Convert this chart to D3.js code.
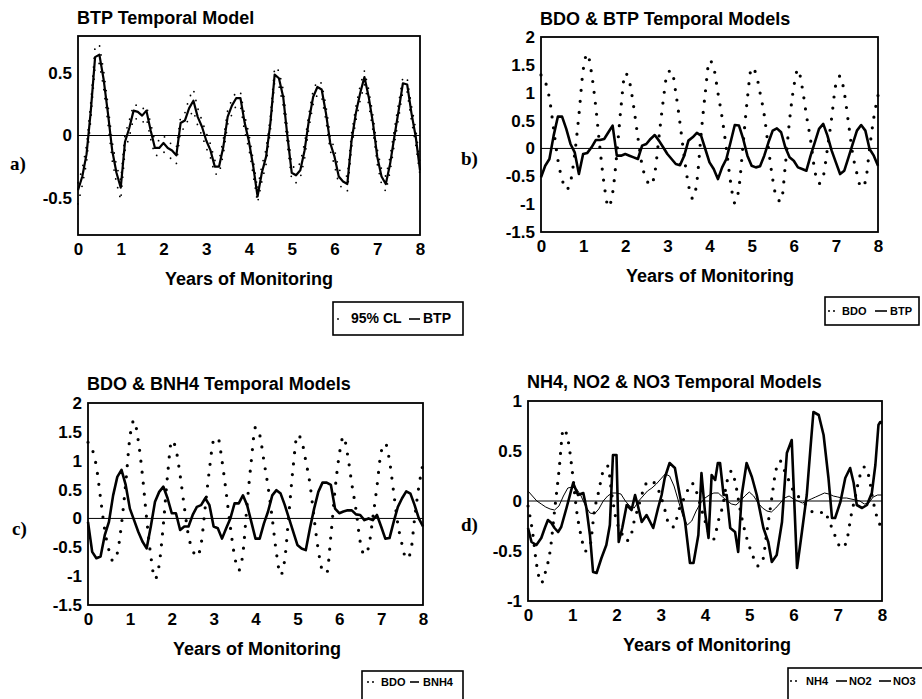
<!DOCTYPE html>
<html>
<head>
<meta charset="utf-8">
<script src="https://cdn.jsdelivr.net/npm/d3@7"></script>
<style>
  body { margin: 0; background: #fff; }
  svg { display: block; }
  text { font-family: "Liberation Sans", Arial, sans-serif; font-weight: bold; fill: #000; }
</style>
</head>
<body>
<svg id="chart" width="922" height="699"></svg>
<script>
var xTicks = [0, 1, 2, 3, 4, 5, 6, 7, 8];
var years = d3.range(81).map(function(i) { return i / 10; });

var btpA = [
  -0.44,-0.33,-0.15,0.2,0.63,0.65,0.45,0.18,-0.12,-0.3,
  -0.42,-0.05,0.06,0.2,0.19,0.16,0.2,0.04,-0.1,-0.1,
  -0.06,-0.1,-0.12,-0.16,0.1,0.12,0.22,0.28,0.15,0.07,
  -0.04,-0.12,-0.25,-0.25,-0.09,0.15,0.24,0.3,0.3,0.1,
  -0.05,-0.25,-0.49,-0.3,-0.17,0.1,0.49,0.46,0.31,-0.01,
  -0.3,-0.32,-0.28,-0.12,0.12,0.31,0.39,0.37,0.18,-0.06,
  -0.17,-0.33,-0.37,-0.39,-0.04,0.18,0.34,0.47,0.31,0.1,
  -0.17,-0.33,-0.39,-0.23,-0.01,0.2,0.42,0.41,0.18,-0.01,
  -0.28];
var clUpper = [
  -0.38,-0.27,-0.08,0.27,0.72,0.73,0.52,0.25,-0.05,-0.24,
  -0.36,0.01,0.12,0.25,0.24,0.21,0.24,0.1,-0.05,-0.04,
  0.0,-0.05,-0.07,-0.1,0.15,0.18,0.3,0.37,0.22,0.12,
  0.02,-0.07,-0.2,-0.2,-0.03,0.2,0.29,0.35,0.35,0.16,
  0.01,-0.2,-0.43,-0.24,-0.11,0.15,0.55,0.52,0.37,0.05,
  -0.24,-0.27,-0.22,-0.06,0.17,0.36,0.44,0.42,0.24,0.0,
  -0.11,-0.27,-0.31,-0.33,0.02,0.23,0.4,0.52,0.37,0.16,
  -0.11,-0.27,-0.33,-0.17,0.05,0.26,0.47,0.46,0.24,0.05,
  -0.22];
var clLower = [
  -0.55,-0.4,-0.22,0.13,0.56,0.58,0.38,0.1,-0.2,-0.38,
  -0.52,-0.12,-0.01,0.14,0.13,0.1,0.14,-0.03,-0.16,-0.16,
  -0.13,-0.17,-0.19,-0.23,0.04,0.06,0.15,0.2,0.08,0.0,
  -0.1,-0.18,-0.31,-0.31,-0.15,0.09,0.17,0.24,0.24,0.03,
  -0.11,-0.32,-0.54,-0.37,-0.23,0.04,0.43,0.4,0.24,-0.08,
  -0.36,-0.38,-0.34,-0.19,0.06,0.25,0.33,0.31,0.12,-0.12,
  -0.24,-0.39,-0.43,-0.45,-0.1,0.12,0.28,0.41,0.25,0.04,
  -0.23,-0.39,-0.45,-0.29,-0.07,0.14,0.36,0.35,0.12,-0.07,
  -0.32];
var btpB = [
  -0.52,-0.31,-0.19,0.23,0.57,0.57,0.35,0.08,-0.07,-0.46,
  -0.1,-0.08,0.02,0.15,0.15,0.17,0.29,0.41,-0.13,-0.13,
  -0.1,-0.13,-0.16,-0.19,0.05,0.08,0.17,0.24,0.14,0.02,
  -0.1,-0.19,-0.28,-0.3,-0.13,0.14,0.2,0.28,0.23,-0.01,
  -0.25,-0.37,-0.55,-0.34,-0.19,0.11,0.42,0.41,0.17,-0.13,
  -0.31,-0.34,-0.32,-0.13,0.11,0.32,0.36,0.29,0.02,-0.16,
  -0.22,-0.34,-0.37,-0.4,-0.13,0.11,0.35,0.44,0.23,-0.04,
  -0.25,-0.46,-0.4,-0.16,0.08,0.32,0.42,0.32,-0.01,-0.13,
  -0.31];
var bdo = [
  1.32,1.2,0.9,0.35,-0.2,-0.55,-0.74,-0.6,-0.1,0.6,
  1.4,1.7,1.35,0.75,0.0,-0.65,-1.05,-0.8,-0.1,0.75,
  1.35,1.2,0.75,0.2,-0.3,-0.55,-0.66,-0.45,0.2,0.85,
  1.35,1.4,1.0,0.45,-0.15,-0.65,-0.9,-0.6,0.25,1.0,
  1.58,1.45,1.0,0.55,0.0,-0.6,-0.98,-0.7,0.1,0.9,
  1.45,1.35,1.0,0.6,0.0,-0.55,-0.9,-0.95,-0.3,0.5,
  1.1,1.42,1.1,0.6,0.15,-0.4,-0.63,-0.5,0.0,0.55,
  1.15,1.3,1.0,0.45,-0.1,-0.45,-0.7,-0.6,0.0,0.55,
  0.95];
var bnh4 = [
  -0.06,-0.58,-0.69,-0.66,-0.29,-0.06,0.4,0.72,0.84,0.58,
  0.17,-0.03,-0.23,-0.4,-0.52,-0.14,0.29,0.46,0.55,0.35,
  0.09,0.09,-0.2,-0.14,-0.14,0.06,0.2,0.23,0.35,0.23,
  -0.14,-0.17,-0.35,-0.17,0.0,0.26,0.26,0.4,0.23,-0.06,
  -0.35,-0.35,-0.09,0.12,0.4,0.49,0.43,0.23,0.0,-0.23,
  -0.46,-0.52,-0.55,-0.17,0.17,0.46,0.62,0.62,0.58,0.17,
  0.09,0.12,0.14,0.14,0.07,0.06,-0.03,0.0,-0.03,0.06,
  -0.14,-0.35,-0.34,-0.06,0.2,0.35,0.47,0.43,0.23,0.0,
  -0.14];
var nh4 = [
  -0.05,-0.3,-0.65,-0.82,-0.7,-0.5,-0.1,0.3,0.72,0.62,
  0.3,-0.1,-0.35,-0.5,-0.45,-0.1,0.1,0.3,0.35,0.05,
  -0.2,-0.3,-0.4,-0.38,-0.2,-0.05,0.1,0.19,0.2,0.15,
  0.05,-0.1,-0.25,-0.26,-0.1,0.0,0.1,0.18,0.1,-0.05,
  -0.2,-0.33,-0.38,-0.2,-0.05,0.2,0.3,0.15,-0.1,-0.3,
  -0.45,-0.57,-0.65,-0.6,-0.3,0.0,0.3,0.4,0.3,0.2,
  0.1,0.05,0.0,-0.05,-0.1,-0.12,-0.12,-0.1,-0.2,-0.3,
  -0.42,-0.47,-0.4,-0.15,0.05,0.25,0.34,0.25,0.0,-0.18,
  -0.27];
var no2 = [
  0.1,0.05,0.0,-0.03,-0.06,-0.08,-0.09,-0.05,0.05,0.13,
  0.14,0.12,0.05,-0.05,-0.12,-0.13,-0.08,0.0,0.05,0.08,
  0.08,0.07,0.0,-0.05,-0.07,0.0,0.05,0.1,0.13,0.17,
  0.22,0.27,0.25,0.15,0.0,-0.15,-0.24,-0.2,-0.1,-0.02,
  0.03,0.06,0.08,0.08,0.04,0.0,-0.03,-0.04,0.0,0.05,
  0.09,0.05,-0.02,-0.07,-0.1,-0.11,-0.07,-0.02,0.03,0.05,
  0.02,0.0,-0.02,0.0,0.02,0.04,0.06,0.08,0.07,0.05,
  0.04,0.03,0.03,0.02,0.01,0.0,-0.03,-0.02,0.04,0.06,
  0.06];
// NO3 is spiky, so it keeps its own time points
var no3Years = [
  0,0.08,0.19,0.3,0.38,0.45,0.53,0.6,0.68,0.75,
  0.87,1.02,1.13,1.25,1.32,1.4,1.47,1.55,1.66,1.77,
  1.85,1.92,2.0,2.05,2.13,2.23,2.34,2.42,2.49,2.57,
  2.68,2.83,2.94,3.02,3.09,3.2,3.32,3.43,3.55,3.66,
  3.74,3.85,3.92,4.0,4.08,4.15,4.23,4.29,4.34,4.42,
  4.49,4.57,4.68,4.75,4.83,4.94,5.06,5.17,5.32,5.43,
  5.51,5.62,5.74,5.85,5.96,6.08,6.19,6.3,6.38,6.45,
  6.57,6.68,6.79,6.87,6.94,7.06,7.17,7.28,7.36,7.43,
  7.55,7.66,7.77,7.85,7.92,7.96,8.0];
var no3 = [
  -0.27,-0.41,-0.44,-0.37,-0.27,-0.19,-0.22,-0.27,-0.31,-0.26,
  -0.07,0.18,0.06,0.08,-0.07,-0.34,-0.71,-0.72,-0.57,-0.44,
  -0.24,0.46,0.46,-0.41,-0.27,-0.04,-0.09,0.06,-0.06,-0.21,
  -0.14,-0.27,-0.07,0.06,0.23,0.38,0.33,0.06,-0.21,-0.62,
  -0.62,-0.34,0.28,-0.11,-0.37,0.26,0.21,0.38,0.38,0.06,
  0.06,-0.27,-0.31,-0.51,0.06,0.38,0.24,0.06,-0.27,-0.41,
  -0.61,-0.54,-0.21,0.48,0.61,-0.67,-0.31,0.06,0.51,0.89,
  0.86,0.66,0.23,-0.17,-0.17,-0.01,0.23,0.33,0.18,-0.04,
  -0.07,-0.04,0.08,0.36,0.76,0.79,0.78];

var ticksA = [-0.5, 0, 0.5];
var ticksBC = [-1.5, -1, -0.5, 0, 0.5, 1, 1.5, 2];
var ticksD = [-1, -0.5, 0, 0.5, 1];

// styles
var dotBig = { width: 3.2, dash: "0,11", curve: d3.curveMonotoneX };
var dotCL = { width: 1.8, dash: "0,9", curve: d3.curveLinear };
var solid = { width: 2.6, dash: null, curve: d3.curveLinear };
var thin = { width: 1, dash: null, curve: d3.curveLinear };

var panels = [
  { box: [78, 36, 420, 235], yDomain: [-0.8, 0.8], yTicks: ticksA,
    title: "BTP Temporal Model", titlePos: [77, 24], letter: "a)", letterPos: [10, 170], xTitlePos: [249, 285],
    series: [
      { years: years, values: clUpper, style: dotCL },
      { years: years, values: clLower, style: dotCL },
      { years: years, values: btpA, style: { width: 2.2, dash: null, curve: d3.curveLinear } }
    ],
    legend: { box: [333, 302, 130, 33], baseline: 323, size: 14, items: [
      { style: dotCL, x1: 338, x2: 347, label: "95% CL", tx: 351 },
      { style: solid, x1: 409, x2: 420, label: "BTP", tx: 423 }
    ] } },
  { box: [541, 37, 878, 232], yDomain: [-1.5, 2], yTicks: ticksBC,
    title: "BDO & BTP Temporal Models", titlePos: [540, 25], letter: "b)", letterPos: [461, 165], xTitlePos: [710, 282],
    series: [
      { years: years, values: bdo, style: dotBig },
      { years: years, values: btpB, style: solid }
    ],
    legend: { box: [825, 297, 94, 28], baseline: 315, size: 11, items: [
      { style: { width: 2, dash: "0,5" }, x1: 829, x2: 838, label: "BDO", tx: 842 },
      { style: thin, x1: 875, x2: 887, label: "BTP", tx: 890 }
    ] } },
  { box: [88, 403, 423, 605], yDomain: [-1.5, 2], yTicks: ticksBC,
    title: "BDO & BNH4 Temporal Models", titlePos: [87, 390], letter: "c)", letterPos: [12, 535], xTitlePos: [257, 655],
    series: [
      { years: years, values: bdo, style: dotBig },
      { years: years, values: bnh4, style: solid }
    ],
    legend: { box: [362, 671, 101, 40], baseline: 686, size: 11, items: [
      { style: { width: 2, dash: "0,5" }, x1: 368, x2: 377, label: "BDO", tx: 381 },
      { style: thin, x1: 410, x2: 419, label: "BNH4", tx: 423 }
    ] } },
  { box: [528, 401, 882, 601], yDomain: [-1, 1], yTicks: ticksD,
    title: "NH4, NO2 & NO3 Temporal Models", titlePos: [527, 388], letter: "d)", letterPos: [461, 531], xTitlePos: [707, 651],
    series: [
      { years: years, values: nh4, style: { width: 3.2, dash: "0,10", curve: d3.curveMonotoneX } },
      { years: years, values: no2, style: thin },
      { years: no3Years, values: no3, style: solid }
    ],
    legend: { box: [788, 668, 150, 40], baseline: 685, size: 11, items: [
      { style: { width: 2, dash: "0,5" }, x1: 791, x2: 801, label: "NH4", tx: 806 },
      { style: thin, x1: 836, x2: 847, label: "NO2", tx: 849 },
      { style: thin, x1: 879, x2: 891, label: "NO3", tx: 893 }
    ] } }
];

var svg = d3.select("#chart");
svg.append("rect").attr("width", 922).attr("height", 699).attr("fill", "#fff");

panels.forEach(function(p) {
  var x = d3.scaleLinear().domain([0, 8]).range([p.box[0], p.box[2]]);
  var y = d3.scaleLinear().domain(p.yDomain).range([p.box[3], p.box[1]]);
  var g = svg.append("g");

  // zero reference line
  g.append("line")
    .attr("x1", x(0)).attr("x2", x(8))
    .attr("y1", y(0)).attr("y2", y(0))
    .attr("stroke", "#000").attr("stroke-width", 1);

  p.series.forEach(function(s) {
    var line = d3.line()
      .x(function(d, i) { return x(s.years[i]); })
      .y(function(d) { return y(d); })
      .curve(s.style.curve);
    g.append("path")
      .datum(s.values)
      .attr("d", line)
      .attr("fill", "none")
      .attr("stroke", "#000")
      .attr("stroke-width", s.style.width)
      .attr("stroke-dasharray", s.style.dash)
      .attr("stroke-linecap", s.style.dash ? "round" : "butt")
      .attr("stroke-linejoin", "round");
  });

  // frame
  g.append("rect")
    .attr("x", x(0)).attr("y", y(p.yDomain[1]))
    .attr("width", x(8) - x(0)).attr("height", y(p.yDomain[0]) - y(p.yDomain[1]))
    .attr("fill", "none").attr("stroke", "#000").attr("stroke-width", 1.8);

  // axes
  g.append("g")
    .attr("transform", "translate(0," + p.box[3] + ")")
    .call(d3.axisBottom(x).tickValues(xTicks).tickSize(0).tickPadding(8).tickFormat(function(d) { return String(d); }))
    .call(function(a) { a.select(".domain").remove(); })
    .attr("font-size", 17).attr("font-family", null);

  g.append("g")
    .attr("transform", "translate(" + p.box[0] + ",0)")
    .call(d3.axisLeft(y).tickValues(p.yTicks).tickSize(0).tickPadding(6).tickFormat(function(d) { return String(d); }))
    .call(function(a) { a.select(".domain").remove(); })
    .attr("font-size", 17).attr("font-family", null);

  g.append("text")
    .attr("x", p.titlePos[0]).attr("y", p.titlePos[1])
    .attr("font-size", 18)
    .text(p.title);

  g.append("text")
    .attr("x", p.xTitlePos[0]).attr("y", p.xTitlePos[1])
    .attr("text-anchor", "middle")
    .attr("font-size", 18)
    .text("Years of Monitoring");

  g.append("text")
    .attr("x", p.letterPos[0]).attr("y", p.letterPos[1])
    .style("font-family", "'Liberation Serif', 'Times New Roman', serif")
    .attr("font-size", 19)
    .text(p.letter);

  // legend
  var L = p.legend;
  var lg = g.append("g");
  lg.append("rect")
    .attr("x", L.box[0]).attr("y", L.box[1])
    .attr("width", L.box[2]).attr("height", L.box[3])
    .attr("fill", "#fff").attr("stroke", "#000").attr("stroke-width", 1.6);
  L.items.forEach(function(it) {
    lg.append("line")
      .attr("x1", it.x1).attr("x2", it.x2)
      .attr("y1", L.baseline - 4).attr("y2", L.baseline - 4)
      .attr("stroke", "#000")
      .attr("stroke-width", it.style.dash ? it.style.width : 1.6)
      .attr("stroke-dasharray", it.style.dash)
      .attr("stroke-linecap", it.style.dash ? "round" : "butt");
    lg.append("text")
      .attr("x", it.tx).attr("y", L.baseline)
      .attr("font-size", L.size)
      .text(it.label);
  });
});
</script>
</body>
</html>
